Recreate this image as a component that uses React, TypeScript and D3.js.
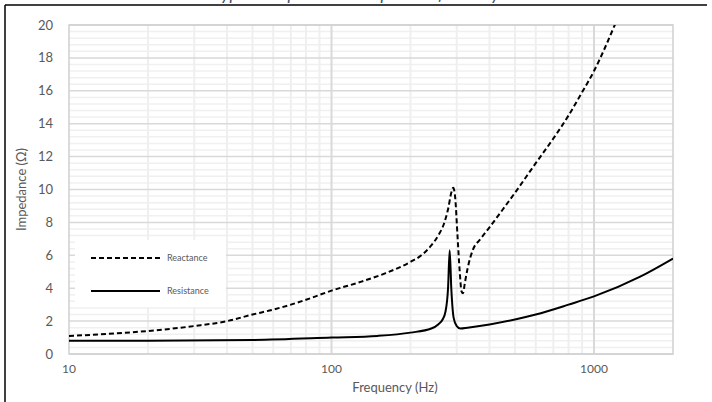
import React from "react";
import * as d3 from "d3";

// chart data
const reactanceFreq = [10, 15, 20, 30, 40, 50, 60, 70, 80, 100, 130, 160, 200, 220, 240, 255, 268, 278, 286, 291, 296, 302, 308, 313, 317, 322, 330, 345, 370, 400, 450, 500, 600, 700, 800, 900, 1000, 1100, 1200, 1300];
const reactanceOhm = [1.1, 1.25, 1.4, 1.7, 2.0, 2.4, 2.7, 3.0, 3.3, 3.85, 4.4, 4.9, 5.6, 6.0, 6.6, 7.2, 7.9, 8.8, 9.8, 10.1, 9.5, 7.2, 5.0, 3.8, 3.7, 4.3, 5.2, 6.3, 7.0, 7.7, 8.8, 9.8, 11.6, 13.1, 14.5, 15.9, 17.2, 18.6, 20.0, 21.3];

const resistanceFreq = [10, 20, 50, 100, 150, 200, 240, 255, 265, 272, 278, 282, 286, 292, 300, 310, 330, 400, 500, 600, 800, 1000, 1500, 2000];
const resistanceOhm = [0.8, 0.8, 0.85, 1.0, 1.1, 1.3, 1.55, 1.8, 2.1, 2.6, 4.0, 6.3, 4.0, 2.2, 1.7, 1.55, 1.6, 1.8, 2.1, 2.4, 3.0, 3.5, 4.7, 5.8];

const yTicks = [0, 2, 4, 6, 8, 10, 12, 14, 16, 18, 20];
const xLabels = [10, 100, 1000];
const seriesNames = ["Reactance", "Resistance"];

const FONT = "Lato, 'Open Sans', sans-serif";
const TXT = "#595959";

export default function App() {
  const left = 69, right = 673, top = 25, bottom = 354;

  const x = d3.scaleLog().domain([10, 2000]).range([left, right]);
  const y = d3.scaleLinear().domain([0, 20]).range([bottom, top]);

  const xGrid = x.ticks();
  const xMajor = xGrid.filter((f) => Math.abs(Math.log10(f) % 1) < 1e-9 && f > 10);
  const xMinor = xGrid.filter((f) => !xMajor.includes(f) && f > 10 && f < 2000);
  const yMinor = d3.range(0, 50).map((i) => i * 0.4).filter((v) => Math.abs((v / 2) - Math.round(v / 2)) > 1e-6);

  const line = d3
    .line<[number, number]>()
    .x((d) => x(d[0]))
    .y((d) => y(d[1]))
    .curve(d3.curveMonotoneX);

  const reactance = line(reactanceFreq.map((f, i) => [f, reactanceOhm[i]]));
  const resistance = line(resistanceFreq.map((f, i) => [f, resistanceOhm[i]]));

  return (
    <svg
      width={712}
      height={402}
      style={{ position: "absolute", left: 0, top: 0, background: "#fff" }}
    >
      <defs>
        <clipPath id="plot">
          <rect x={left} y={top} width={right - left} height={bottom - top} />
        </clipPath>
      </defs>

      {/* title, mostly cut off above the frame */}
      <text
        x={356}
        y={0}
        textAnchor="middle"
        fontFamily={FONT}
        fontStyle="italic"
        fontSize={18}
        fill="#44546a"
      >
        Typical Impedance Response of a Body
      </text>

      {/* outer frame */}
      <line x1={5} x2={707} y1={5} y2={5} stroke="#000" strokeWidth={1.5} />
      <line x1={5} x2={5} y1={5} y2={402} stroke="#000" strokeWidth={1.5} />

      {/* grid */}
      <g>
        {yMinor.map((v) => (
          <line key={"ym" + v} x1={left} x2={right} y1={y(v)} y2={y(v)} stroke="#f0f0f0" strokeWidth={1.5} />
        ))}
        {xMinor.map((f) => (
          <line key={"xm" + f} x1={x(f)} x2={x(f)} y1={top} y2={bottom} stroke="#efefef" strokeWidth={2} />
        ))}
        {yTicks.map((v) => (
          <line key={"yM" + v} x1={left} x2={right} y1={y(v)} y2={y(v)} stroke="#d9d9d9" strokeWidth={1.5} />
        ))}
        {xMajor.map((f) => (
          <line key={"xM" + f} x1={x(f)} x2={x(f)} y1={top} y2={bottom} stroke="#d9d9d9" strokeWidth={2} />
        ))}
        <rect x={left} y={top} width={right - left} height={bottom - top} fill="none" stroke="#d0d0d0" strokeWidth={1.5} />
      </g>

      {/* y tick labels */}
      {yTicks.map((v) => (
        <text key={"yl" + v} x={53} y={y(v) + 4.5} textAnchor="end" fontFamily={FONT} fontSize={13} fill={TXT}>
          {v}
        </text>
      ))}
      {/* x tick labels */}
      {xLabels.map((f) => (
        <text key={"xl" + f} x={x(f)} y={373} textAnchor="middle" fontFamily={FONT} fontSize={12} fill={TXT}>
          {f}
        </text>
      ))}

      <text x={395} y={392} textAnchor="middle" fontFamily={FONT} fontSize={13} fill={TXT}>
        Frequency (Hz)
      </text>
      <text
        transform={`translate(26,${(top + bottom) / 2}) rotate(-90)`}
        textAnchor="middle"
        fontFamily={FONT}
        fontSize={13}
        fill={TXT}
      >
        Impedance (Ω)
      </text>

      {/* legend */}
      <rect x={75} y={240} width={151} height={67} fill="#fff" />
      <line x1={91} x2={160} y1={258} y2={258} stroke="#000" strokeWidth={2} strokeDasharray="5,3" />
      <line x1={91} x2={160} y1={291} y2={291} stroke="#000" strokeWidth={2} />
      <text x={167} y={261} fontFamily={FONT} fontSize={9} fill={TXT}>{seriesNames[0]}</text>
      <text x={167} y={294} fontFamily={FONT} fontSize={9} fill={TXT}>{seriesNames[1]}</text>

      {/* series */}
      <g clipPath="url(#plot)">
        <path d={reactance ?? ""} fill="none" stroke="#000" strokeWidth={2} strokeDasharray="5,3" />
        <path d={resistance ?? ""} fill="none" stroke="#000" strokeWidth={2} />
      </g>
    </svg>
  );
}
